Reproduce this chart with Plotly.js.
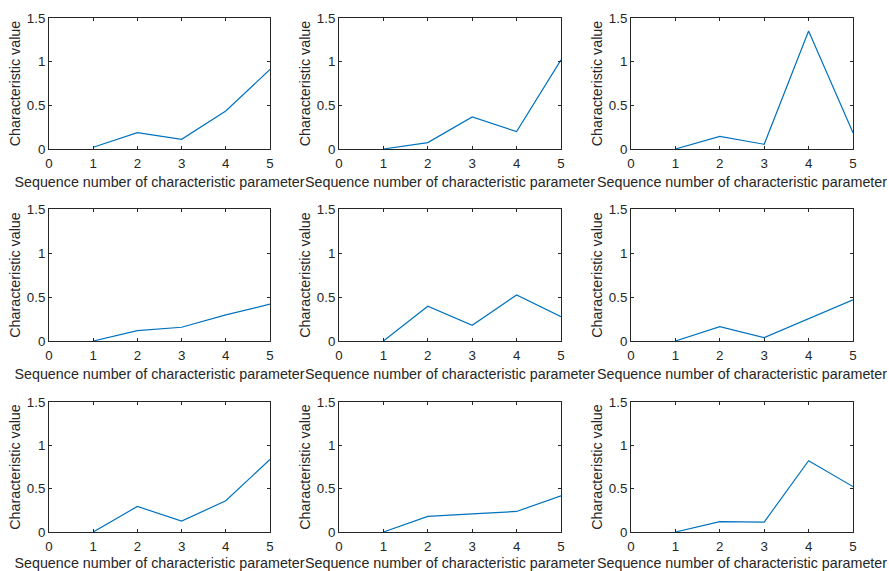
<!DOCTYPE html>
<html>
<head>
<meta charset="utf-8">
<script src="https://cdn.plot.ly/plotly-3.0.1.min.js"></script>
<style>html,body{margin:0;padding:0;background:#fff;}#chart{width:889px;height:571px;}</style>
</head>
<body>
<div id="chart"></div>
<script>
// Data
const seqNumbers = [1, 2, 3, 4, 5];
const xTickVals = [0, 1, 2, 3, 4, 5];
const yTickVals = [0, 0.5, 1, 1.5];
const yTickText = ["0", "0.5", "1", "1.5"];
const xTitle = "Sequence number of characteristic parameter";
const yTitle = "Characteristic value";

const panel1 = [0.02, 0.187, 0.111, 0.436, 0.911];
const panel2 = [0.0, 0.073, 0.367, 0.199, 1.02];
const panel3 = [0.0, 0.145, 0.054, 1.351, 0.185];
const panel4 = [0.0, 0.118, 0.156, 0.297, 0.419];
const panel5 = [0.0, 0.395, 0.178, 0.524, 0.277];
const panel6 = [0.0, 0.163, 0.038, 0.25, 0.467];
const panel7 = [0.0, 0.295, 0.126, 0.36, 0.838];
const panel8 = [0.0, 0.18, 0.21, 0.237, 0.417];
const panel9 = [0.0, 0.119, 0.115, 0.823, 0.524];
const panels = [panel1, panel2, panel3, panel4, panel5, panel6, panel7, panel8, panel9];

// Layout geometry (paper fractions)
const W = 889, H = 571;
const colPx = [[49, 270], [339, 561], [631, 853]];
const rowPx = [[18, 149], [209, 341], [402, 532]];

const axisColor = "#262626";
const fam = "Liberation Sans, Arial, Helvetica, sans-serif";

const data = [];
const layout = {
  width: W, height: H,
  margin: {l: 0, r: 0, t: 0, b: 0},
  paper_bgcolor: "#ffffff",
  plot_bgcolor: "#ffffff",
  showlegend: false,
  font: {family: fam, size: 13, color: axisColor}
};

panels.forEach((vals, i) => {
  const r = Math.floor(i / 3), c = i % 3;
  const n = i + 1;
  const xa = n === 1 ? "x" : "x" + n;
  const ya = n === 1 ? "y" : "y" + n;
  data.push({
    x: seqNumbers, y: vals, type: "scatter", mode: "lines",
    xaxis: xa, yaxis: ya,
    line: {color: "#0072BD", width: 1.2},
    hoverinfo: "x+y"
  });
  const common = {
    showline: true, linecolor: axisColor, linewidth: 1, mirror: "ticks",
    ticks: "inside", ticklen: 3, tickwidth: 1, tickcolor: axisColor,
    showgrid: false, zeroline: false, fixedrange: true,
    tickfont: {family: fam, size: 13.3, color: axisColor}
  };
  layout["xaxis" + (n === 1 ? "" : n)] = Object.assign({}, common, {
    domain: [colPx[c][0] / W, colPx[c][1] / W],
    anchor: ya,
    range: [0, 5],
    tickvals: xTickVals,
    ticklabelstandoff: 2,
    title: {text: xTitle, font: {family: fam, size: 14.3, color: axisColor}, standoff: 7}
  });
  layout["yaxis" + (n === 1 ? "" : n)] = Object.assign({}, common, {
    domain: [1 - rowPx[r][1] / H, 1 - rowPx[r][0] / H],
    anchor: xa,
    range: [0, 1.5],
    tickvals: yTickVals,
    ticktext: yTickText,
    title: {text: yTitle, font: {family: fam, size: 14.3, color: axisColor}, standoff: 2}
  });
});

Plotly.newPlot("chart", data, layout, {displayModeBar: false, staticPlot: true});
</script>
</body>
</html>
